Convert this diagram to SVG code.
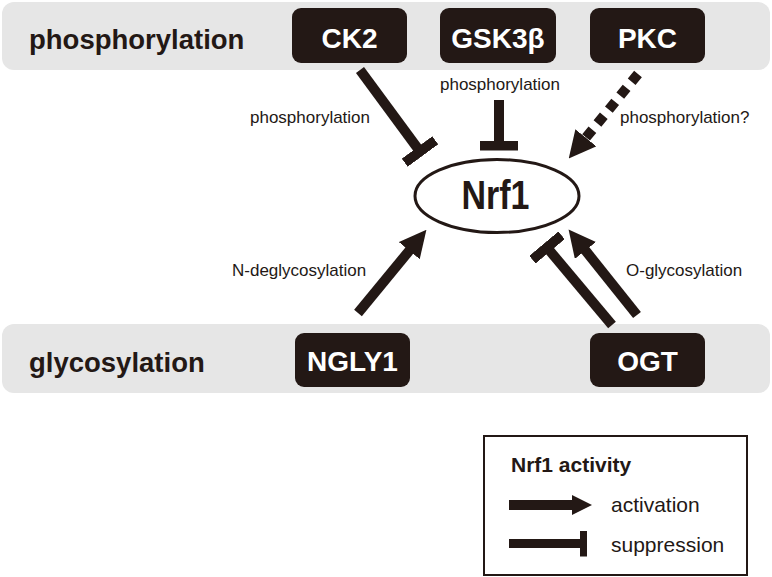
<svg xmlns="http://www.w3.org/2000/svg" width="772" height="577" viewBox="0 0 772 577">
  <style>
    .band { fill: #e6e6e6; }
    .box { fill: #231815; }
    .boxtxt { font-family: "Liberation Sans", Arial, sans-serif; font-weight: bold; font-size: 28px; fill: #ffffff; text-anchor: middle; }
    .bandtxt { font-family: "Liberation Sans", Arial, sans-serif; font-weight: bold; font-size: 27.5px; fill: #231815; }
    .lbl { font-family: "Liberation Sans", Arial, sans-serif; font-size: 17px; fill: #231815; }
    .edge { stroke: #231815; stroke-width: 10; fill: none; }
    .leg { font-family: "Liberation Sans", Arial, sans-serif; font-size: 21px; fill: #231815; }
  </style>
  <defs>
    <marker id="ah" markerUnits="userSpaceOnUse" markerWidth="27" markerHeight="27" viewBox="0 0 27 27" refX="1" refY="13.5" orient="auto">
      <path d="M0,0 L27,13.5 L0,27 Z" fill="#231815"/>
    </marker>
    <marker id="tb" markerUnits="userSpaceOnUse" markerWidth="10" markerHeight="38" viewBox="0 0 10 38" refX="5" refY="19" orient="auto">
      <rect x="0" y="0" width="10" height="38" fill="#231815"/>
    </marker>
    <marker id="ahs" markerUnits="userSpaceOnUse" markerWidth="20" markerHeight="20" viewBox="0 0 20 20" refX="1" refY="10" orient="auto">
      <path d="M0,0 L20,10 L0,20 Z" fill="#231815"/>
    </marker>
    <marker id="tbs" markerUnits="userSpaceOnUse" markerWidth="7" markerHeight="26" viewBox="0 0 7 26" refX="3.5" refY="13" orient="auto">
      <rect x="0" y="0" width="7" height="26" fill="#231815"/>
    </marker>
  </defs>

  <g id="band-phosphorylation">
    <rect class="band" x="2" y="2" width="768" height="68" rx="12"/>
    <text class="bandtxt" x="29" y="49">phosphorylation</text>
  </g>
  <g id="band-glycosylation">
    <rect class="band" x="2" y="324" width="768" height="69" rx="12"/>
    <text class="bandtxt" x="29" y="371.5">glycosylation</text>
  </g>

  <g id="node-CK2">
    <rect class="box" x="292" y="8" width="115" height="55" rx="9"/>
    <text class="boxtxt" x="349.5" y="48">CK2</text>
  </g>
  <g id="node-GSK3b">
    <rect class="box" x="440" y="8" width="116" height="55" rx="9"/>
    <text class="boxtxt" x="498" y="48">GSK3β</text>
  </g>
  <g id="node-PKC">
    <rect class="box" x="590" y="8" width="115" height="55" rx="9"/>
    <text class="boxtxt" x="647.5" y="48">PKC</text>
  </g>
  <g id="node-NGLY1">
    <rect class="box" x="295" y="333" width="115" height="54" rx="9"/>
    <text class="boxtxt" x="352.5" y="371">NGLY1</text>
  </g>
  <g id="node-OGT">
    <rect class="box" x="590" y="333" width="115" height="54" rx="9"/>
    <text class="boxtxt" x="647.5" y="371">OGT</text>
  </g>
  <g id="node-Nrf1">
    <ellipse cx="497" cy="196" rx="82" ry="36.5" fill="#ffffff" stroke="#231815" stroke-width="3"/>
    <text x="495.5" y="208.5" font-family="Liberation Sans, Arial, sans-serif" font-weight="bold" font-size="41" fill="#231815" text-anchor="middle" textLength="68" lengthAdjust="spacingAndGlyphs">Nrf1</text>
  </g>

  <g id="connectors">
    <line class="edge" x1="360" y1="70" x2="420" y2="151.5" marker-end="url(#tb)"/>
    <line class="edge" x1="499" y1="100" x2="499" y2="145.5" marker-end="url(#tb)"/>
    <line class="edge" x1="638" y1="74" x2="585.2" y2="138.5" stroke-dasharray="10 8" marker-end="url(#ah)"/>
    <line class="edge" x1="358" y1="313" x2="409.9" y2="249.9" marker-end="url(#ah)"/>
    <line class="edge" x1="612" y1="325" x2="547" y2="247.5" marker-end="url(#tb)"/>
    <line class="edge" x1="637" y1="315" x2="584.8" y2="249.7" marker-end="url(#ah)"/>
    <text class="lbl" x="250" y="123">phosphorylation</text>
    <text class="lbl" x="500" y="90" text-anchor="middle">phosphorylation</text>
    <text class="lbl" x="620" y="123">phosphorylation?</text>
    <text class="lbl" x="232" y="275.5">N-deglycosylation</text>
    <text class="lbl" x="626" y="275.5">O-glycosylation</text>
  </g>

  <g id="legend">
    <rect x="484" y="436" width="263" height="139" fill="#ffffff" stroke="#231815" stroke-width="2"/>
    <text x="511" y="472" font-family="Liberation Sans, Arial, sans-serif" font-weight="bold" font-size="21" fill="#231815">Nrf1 activity</text>
    <line x1="509" y1="505" x2="573" y2="505" stroke="#231815" stroke-width="10" marker-end="url(#ahs)"/>
    <text class="leg" x="611" y="512">activation</text>
    <line x1="509" y1="543.5" x2="583.5" y2="543.5" stroke="#231815" stroke-width="9" marker-end="url(#tbs)"/>
    <text class="leg" x="611" y="552">suppression</text>
  </g>
</svg>
